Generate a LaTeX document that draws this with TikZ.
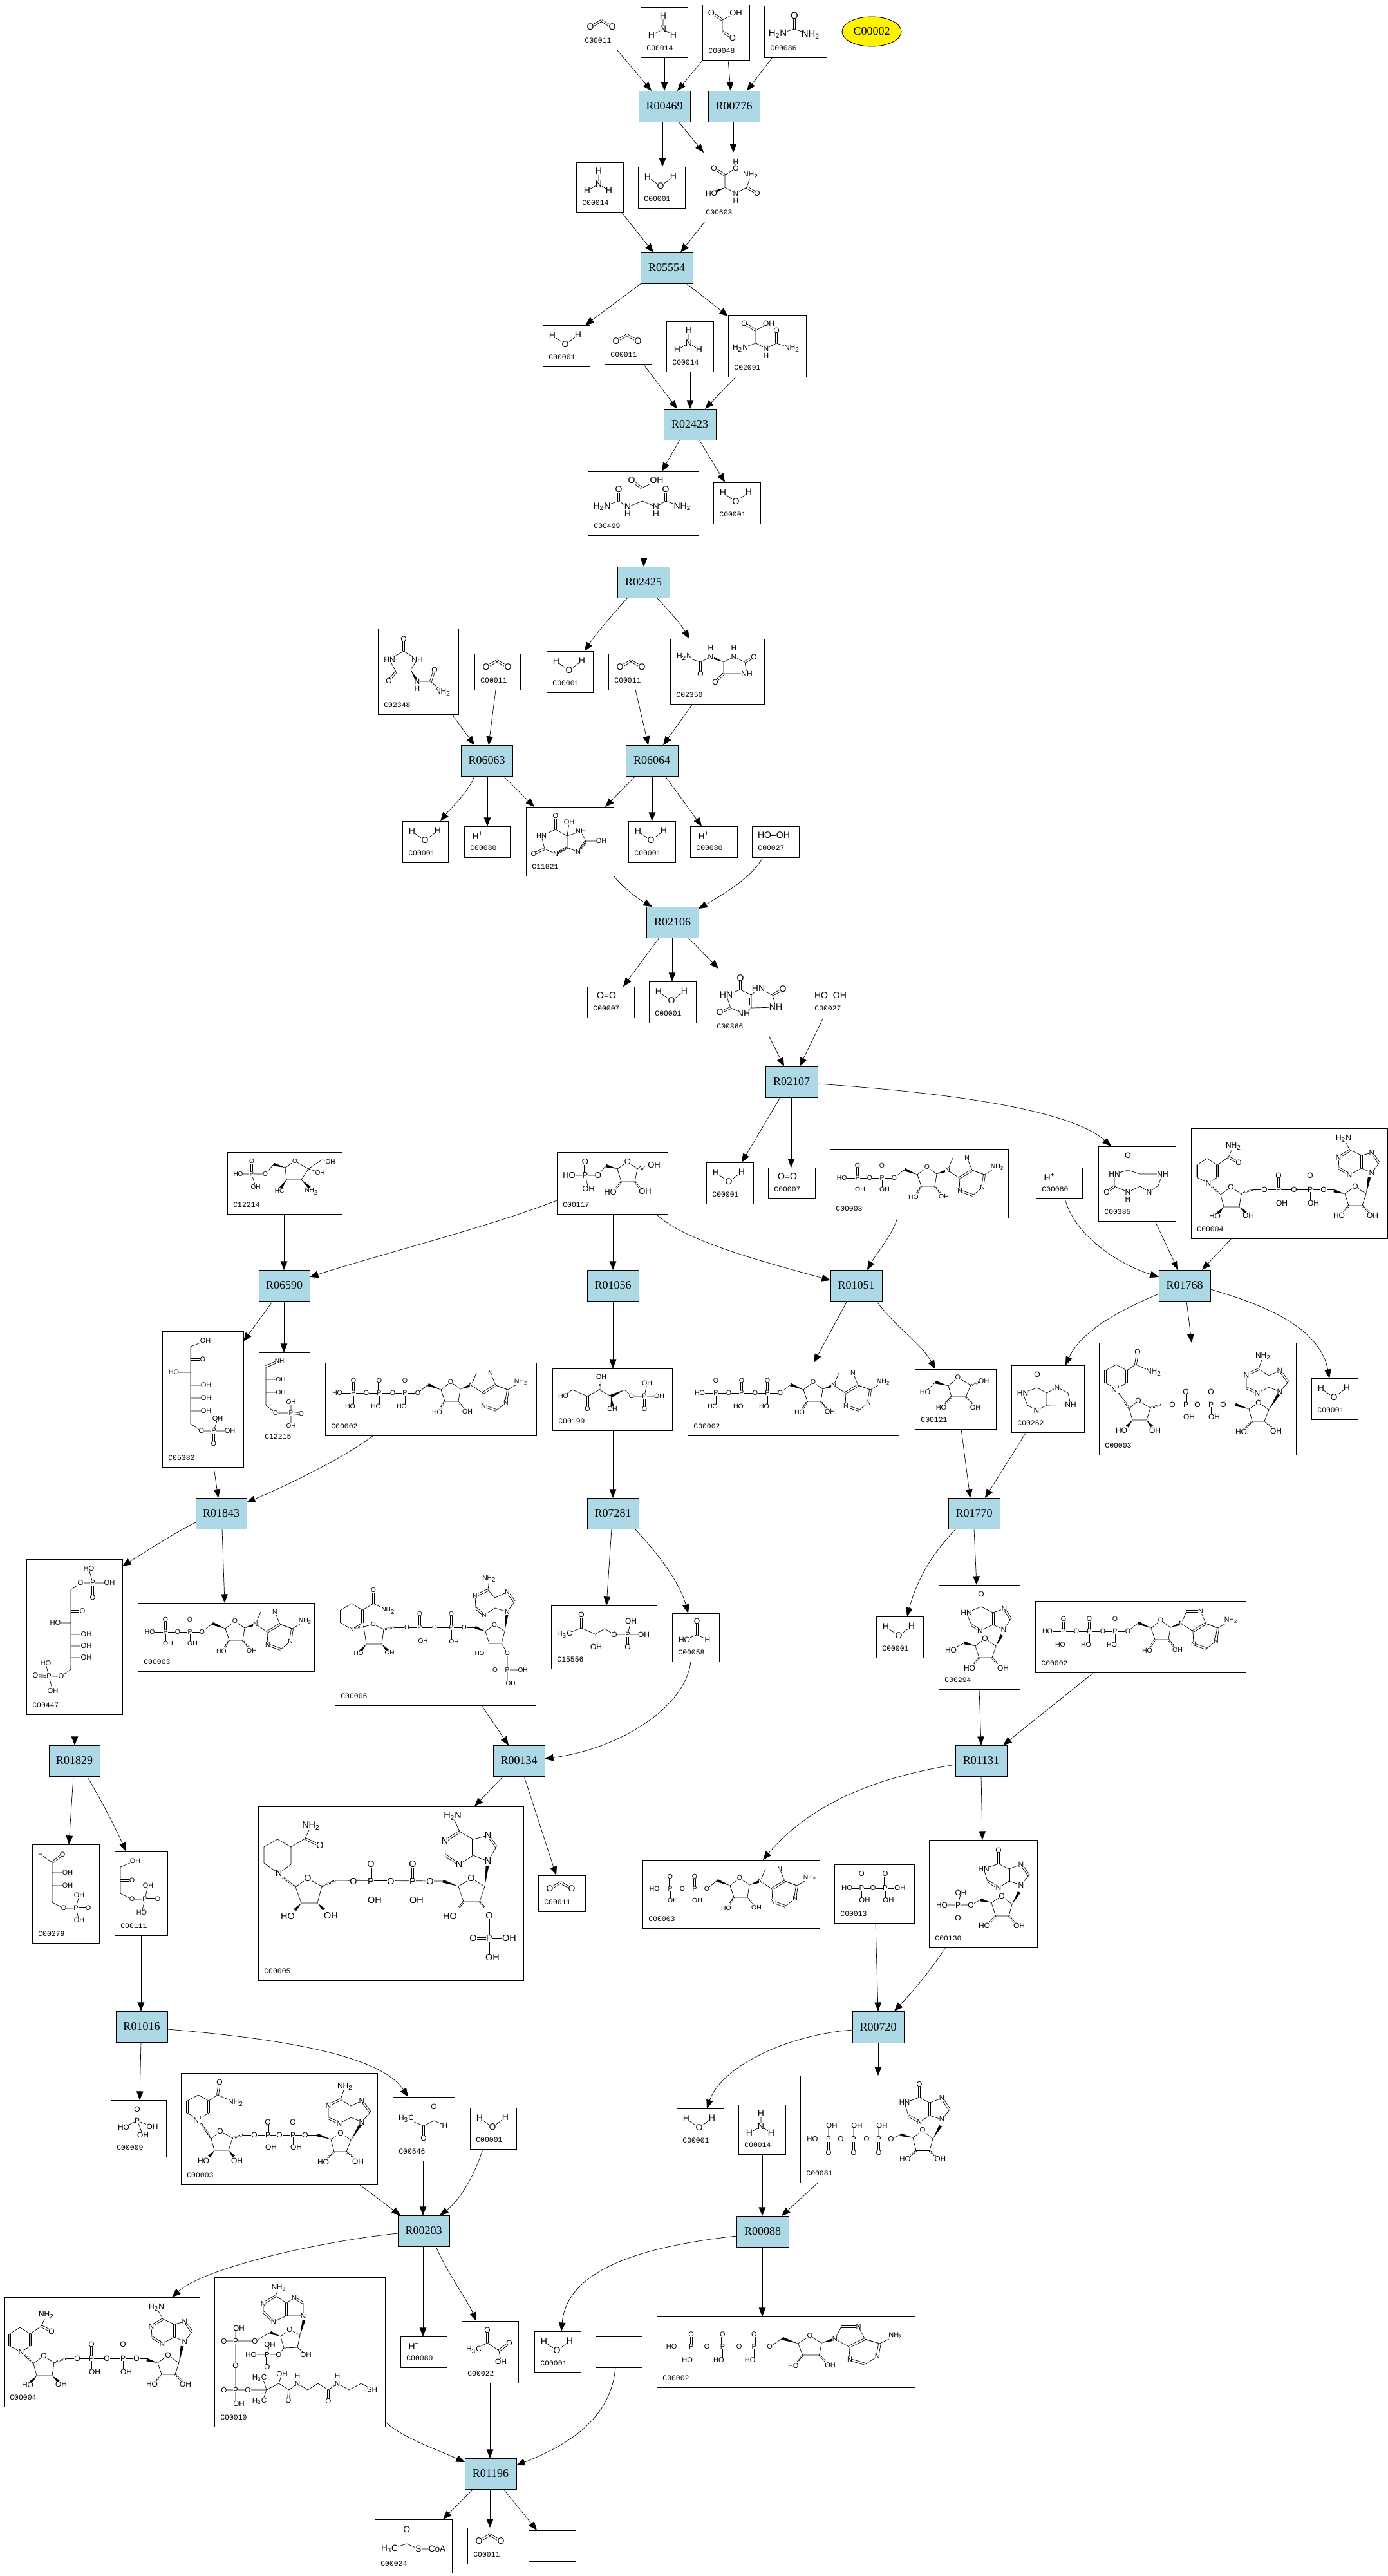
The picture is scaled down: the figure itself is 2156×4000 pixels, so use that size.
\documentclass[tikz,border=0pt]{standalone}
\usepackage{fontspec}
\setmainfont{Liberation Serif}
\setsansfont{Liberation Sans}
\setmonofont{Liberation Mono}
\usetikzlibrary{arrows.meta,calc,shapes.geometric}
\definecolor{rxblue}{HTML}{ADD8E6}
\newcount\atmc
\def\atfont{\fontsize{7pt}{7pt}\selectfont\sffamily}
\tikzset{
 cbox/.style={draw=black,line width=0.45pt,rectangle,inner sep=0pt,outer sep=0pt},
 rbox/.style={draw=black,line width=0.45pt,rectangle,inner sep=0pt,outer sep=0pt,fill=rxblue,font=\fontsize{9pt}{9pt}\selectfont\rmfamily},
 lbl/.style={anchor=west,inner sep=0pt,font=\fontsize{5.7pt}{5.7pt}\selectfont\ttfamily},
 atmst/.style={inner sep=0.1pt,outer sep=0pt,fill=white,font=\atfont},
 bd/.style={line width=0.35pt,line join=round},
 ed/.style={line width=0.35pt,-{Triangle[length=6.8pt,width=5.3pt]}}
}
\newcommand\atm[2]{\global\advance\atmc by 1 \node[atmst] (atm\the\atmc) at (#1) {#2};}
\newcommand\dbl[2]{\draw[bd] ($(#1)!0.75pt!90:(#2)$)--($(#2)!0.75pt!-90:(#1)$) ($(#1)!0.75pt!-90:(#2)$)--($(#2)!0.75pt!90:(#1)$);}
\newcommand\wdg[2]{\fill ($(#2)!1.2pt!90:(#1)$)--(#1)--($(#2)!1.2pt!-90:(#1)$)--cycle;}
\newcommand\hsh[2]{\draw[line width=1.5pt,dash pattern=on .35pt off .65pt](#1)--(#2);}
\newcommand\nhh{NH\textsubscript{2}}
\newcommand\hhn{H\textsubscript{2}N}
\newcommand\hhhc{H\textsubscript{3}C}
\newcommand\cpd[8]{%
 \node[cbox,minimum width={(#4-#2)*0.5pt},minimum height={(#5-#3)*0.5pt}] (#1) at ({(#2+#4)/2},{(#3+#5)/2}) {};
 \node[lbl] (#1l) at ([shift={(9,-14)}]#1.south west) {#6};
 \begin{scope}[shift={(#1.north west)}]\def\atfont{\fontsize{#7}{#7}\selectfont\sffamily}#8\end{scope}}
\newcommand\rxn[6]{\node[rbox,minimum width={(#4-#2)*0.5pt},minimum height={(#5-#3)*0.5pt}] (#1) at ({(#2+#4)/2},{(#3+#5)/2}) {#6};}
% phosphate: x,y,up,down,label dx,label
\newcommand\phos[6]{\dbl{#1,#2-#3}{#1,#2}\draw[bd](#1,#2)--(#1,#2+#4);\atm{#1,#2-#3}{O}\atm{#1+#5,#2+#4}{#6}\atm{#1,#2}{P}}
% adenine ring: N9 C8 N7 C5 C6 N1 C2 N3 C4
\newcommand\pur[9]{\draw[bd](#1)--(#2) (#3)--(#4)--(#5) (#6)--(#7) (#8)--(#9)--(#1);\dbl{#2}{#3}\dbl{#5}{#6}\dbl{#7}{#8}\dbl{#9}{#4}\atm{#1}{N}\atm{#3}{N}\atm{#6}{N}\atm{#8}{N}}
% hypoxanthine: O C6 N1 C2 N3 C4 C5 N7 C8, with N9 in \hNn
\newcommand\hypo[9]{\draw[bd](#2)--(#3)--(#4) (#5)--(#6) (#7)--(#2) (#7)--(#8) (#9)--(\hNn)--(#6);\dbl{#1}{#2}\dbl{#4}{#5}\dbl{#6}{#7}\dbl{#8}{#9}\atm{#1}{O}\atm{#3}{HN}\atm{#5}{N}\atm{#8}{N}\atm{\hNn}{N}}
\newcommand\mWater{\draw[bd](15,16)--(35,30)--(55,15);\atm{15,16}{H}\atm{35,30}{O}\atm{55,15}{H}}
\newcommand\mCOO{\dbl{18,21}{35,11}\dbl{35,11}{52,21}\atm{18,21}{O}\atm{52,21}{O}}
\newcommand\mNHHH{\draw[bd](35,14)--(35,34)(17,44)--(35,34)--(51,44);\atm{35,14}{H}\atm{35,34}{N}\atm{17,44}{H}\atm{51,44}{H}}
\newcommand\mOO{\atm{30,14}{O=O}}
\newcommand\mHOOH{\atm{34,14}{HO--OH}}
\newcommand\mHp{\atm{21,15}{H\textsuperscript{+}}}
\newcommand\mGlx{\dbl{14,13}{31,24}\draw[bd](52,13)--(31,24)--(31,42);\dbl{31,42}{47,52}\atm{14,13}{O}\atm{52,13}{OH}\atm{47,52}{O}}
\newcommand\mUrea{\dbl{47,15}{47,36}\draw[bd](21,44)--(47,36)--(72,45);\atm{47,15}{O}\atm{21,44}{\hhn}\atm{72,45}{\nhh}}
\newcommand\mCsixOthree{\dbl{22,24}{39,35}\draw[bd](56,24)--(39,35)--(39,54)--(56,63)--(73,54)--(79,35)(56,14)--(56,24);\wdg{39,54}{22,62}\dbl{73,54}{89,63}\atm{56,14}{H}\atm{56,24}{O}\atm{22,24}{O}\atm{18,63}{HO}\atm{56,63}{N}\atm{56,74}{H}\atm{79,35}{\nhh}\atm{89,63}{O}}
\newcommand\mCtwoNinetyOne{\dbl{25,13}{43,24}\draw[bd](63,13)--(43,24)--(43,44)--(19,52)(43,44)--(59,52)--(75,44)--(99,52);\dbl{75,24}{75,44}\atm{25,13}{O}\atm{63,13}{OH}\atm{19,52}{\hhn}\atm{59,52}{N}\atm{59,63}{H}\atm{75,24}{O}\atm{99,52}{\nhh}}
\newcommand\mAllantoate{\dbl{68,14}{84,26}\draw[bd](84,26)--(107,14)(22,55)--(48,46)--(62,55)--(85,46)--(106,55)--(121,46)--(147,55);\dbl{48,28}{48,46}\dbl{121,28}{121,46}\atm{68,14}{O}\atm{107,14}{OH}\atm{48,28}{O}\atm{121,28}{O}\atm{22,55}{\hhn}\atm{62,55}{N}\atm{62,66}{H}\atm{106,55}{N}\atm{106,66}{H}\atm{147,55}{\nhh}}
\newcommand\mCtwoThreeFourEight{\dbl{40,16}{40,35}\draw[bd](18,48)--(40,35)--(61,48)--(51,64)(18,48)--(28,67);\dbl{28,67}{17,81}\wdg{51,64}{61,82}\draw[bd](61,82)--(82,82)--(101,99);\dbl{82,82}{88,64}\atm{40,16}{O}\atm{18,48}{HN}\atm{61,48}{NH}\atm{17,81}{O}\atm{61,82}{N}\atm{61,93}{H}\atm{88,64}{O}\atm{101,99}{\nhh}}
\newcommand\mCtwoThreeFifty{\draw[bd](22,28)--(47,36)--(63,28)(83,36)--(99,28)--(116,36)--(119,54)--(83,54)--(83,36);\dbl{47,36}{47,54}\wdg{83,36}{63,28}\dbl{116,36}{130,28}\dbl{83,54}{70,67}\atm{22,28}{\hhn}\atm{63,28}{N}\atm{63,14}{H}\atm{47,54}{O}\atm{99,28}{N}\atm{99,14}{H}\atm{130,28}{O}\atm{119,54}{NH}\atm{70,67}{O}}
\newcommand\mCelevenEight{\dbl{46,14}{46,35}\draw[bd](46,35)--(24,45)--(29,65)--(46,73)--(64,63)--(64,45)--(46,35)(64,45)--(67,24)(64,45)--(85,38)--(93,53)--(117,53)(93,53)--(81,70)--(64,63);\dbl{29,65}{12,73}\dbl{46,73}{64,63}\dbl{93,53}{81,70}\atm{46,14}{O}\atm{67,24}{OH}\atm{85,38}{NH}\atm{117,53}{OH}\atm{81,70}{N}\atm{46,73}{N}\atm{12,73}{O}\atm{24,45}{HN}}
\newcommand\mUrate{\dbl{46,15}{46,33}\draw[bd](46,33)--(24,41)--(31,61)--(51,70)--(63,61)--(63,41)--(46,33)(63,41)--(74,31)--(96,41)--(101,60)--(63,61);\dbl{31,61}{14,68}\dbl{96,41}{112,32}\draw[bd](60,45)--(60,57);\atm{46,15}{O}\atm{24,41}{HN}\atm{14,68}{O}\atm{51,70}{NH}\atm{74,31}{HN}\atm{112,32}{O}\atm{101,60}{NH}}
\newcommand\mXanth{\dbl{46,14.5}{46,37}\draw[bd](46,37)--(25,43)--(25,62)--(46,71)--(65,62)(65,43)--(46,37)(65,43)--(100,43)--(93,61)--(79,71)--(65,62);\dbl{25,62}{13,71}\dbl{65,62}{65,43}\atm{46,14.5}{O}\atm{25,43}{HN}\atm{13,71}{O}\atm{46,71}{N}\atm{46,82}{H}\atm{100,43}{NH}\atm{79,71}{N}}
\newcommand\mHypx{\dbl{40,14.5}{40,35}\draw[bd](40,35)--(17.5,43)--(25,62)--(39,70)--(55,62)--(92,61)(55,62)--(55,43)--(40,35)(55,43)--(71,34)--(88,43)--(92,61);\atm{40,14.5}{O}\atm{17.5,43}{HN}\atm{39,70}{N}\atm{71,34}{N}\atm{92,61}{NH}}
\newcommand\mRfP{\dbl{44,15}{44,36}\draw[bd](19,36)--(64,36)(44,36)--(49,57)(64,36)--(76,21);\wdg{94,26}{76,21}\draw[bd](94,26)--(110,15)--(125,26)--(121,46)--(100,46)--cycle (125,26)--(130,22)--(132,28)--(137,21);\hsh{100,46}{92,56}\hsh{121,46}{129,56}\atm{44,15}{O}\atm{44,36}{P}\atm{19,36}{HO}\atm{64,36}{O}\atm{49,57}{OH}\atm{110,15}{O}\atm{83,62}{HO}\atm{137,61}{OH}\atm{151,20}{OH}}
\newcommand\mCtwelveA{\dbl{38,14}{38,34}\draw[bd](17,34)--(59,34)(38,34)--(44,54)(59,34)--(72,19);\wdg{90,24}{72,19}\draw[bd](90,24)--(105,14)--(126,26)--(115,43)--(92,43)--cycle (126,26)--(147,12)--(160,15)(126,26)--(144,32);\wdg{92,43}{83,56}\wdg{115,43}{128,55}\atm{38,14}{O}\atm{38,34}{P}\atm{17,34}{HO}\atm{59,34}{O}\atm{44,54}{OH}\atm{105,14}{O}\atm{81,60}{HC}\atm{131,61}{\nhh}\atm{144,32}{OH}\atm{160,15}{OH}}
\newcommand\mCfiveThree{\draw[bd](67,15)--(44,24)--(44,144)--(61,155)--(105,155)(44,64)--(18,64)(44,84)--(68,84)(44,104)--(68,104)(44,124)--(68,124)(80,155)--(86,136);\dbl{44,44}{63,44}\dbl{80,155}{80,175}\atm{67,15}{OH}\atm{63,44}{O}\atm{18,64}{HO}\atm{68,84}{OH}\atm{68,104}{OH}\atm{68,124}{OH}\atm{61,155}{O}\atm{80,155}{P}\atm{86,136}{OH}\atm{105,155}{OH}\atm{80,175}{O}}
\newcommand\mCtwelveB{\dbl{32,13}{11,22}\draw[bd](11,22)--(11,82)--(26,94)--(50,94)--(50,77)(11,42)--(34,42)(11,62)--(34,62)(50,94)--(50,114);\dbl{50,94}{66,95}\atm{32,13}{NH}\atm{34,42}{OH}\atm{34,62}{OH}\atm{26,94}{O}\atm{50,94}{P}\atm{50,77}{OH}\atm{66,95}{O}\atm{50,114}{OH}}
% adenosine part, ATP coordinates
\newcommand\mAdo{\draw[bd](144,47)--(160,34);\wdg{180,42}{160,34}\draw[bd](180,42)--(195,30)--(210,41)--(207,60)--(186,60)--cycle;\hsh{186,60}{179,71}\hsh{207,60}{215,70}\wdg{210,41}{227,35}\draw[bd](265,35)--(284,42)--(304,30);\pur{227,35}{235,16}{257,16}{265,35}{284,42}{281,62}{266,74}{246,67}{245,47}\atm{195,30}{O}\atm{144,47}{O}\atm{174,77}{HO}\atm{221,76}{OH}\atm{304,30}{\nhh}}
\newcommand\mATP{\draw[bd](19,47)--(144,47);\phos{44}{47}{19}{21}{-5}{HO}\phos{84}{47}{19}{21}{-5}{HO}\phos{124}{47}{19}{21}{-5}{HO}\atm{19,47}{HO}\atm{64,47}{O}\atm{105,47}{O}\mAdo}
\newcommand\mADP{\draw[bd](18.6,45)--(100,45);\phos{43}{45}{19}{18}{4}{OH}\phos{81}{45}{19}{18}{4}{OH}\atm{18.6,45}{HO}\atm{62,45}{O}\begin{scope}[shift={(-44,-2)}]\mAdo\end{scope}}
\newcommand\mCoNinetyNine{\draw[bd](17,43)--(31,33)--(54.5,43)--(73,33)--(91,43)(112,33)--(123,43)--(166,43)(143,43)--(147,23);\dbl{54.5,43}{54.5,63}\hsh{73,33}{75,21}\wdg{91,43}{93,58}\wdg{112,33}{91,43}\dbl{143,43}{143,63}\atm{17,43}{HO}\atm{54.5,63}{O}\atm{76,13}{OH}\atm{93,63}{CH}\atm{123,43}{O}\atm{143,43}{P}\atm{147,23}{OH}\atm{166,43}{OH}\atm{143,63}{O}}
\newcommand\mRibose{\draw[bd](16,36)--(32,20);\wdg{52,26}{32,20}\draw[bd](52,26)--(67,13)--(87,25)--(79,43)--(57,43)--cycle;\hsh{87,25}{100,20}\hsh{57,43}{46,54}\hsh{79,43}{90,54}\atm{16,36}{HO}\atm{67,13}{O}\atm{107,19}{OH}\atm{41,60}{HO}\atm{94,60}{OH}}
\newcommand\mCfifteen{\draw[bd](21,45)--(47,35)--(69,44.6)--(83,36)--(98,45)--(144,45)(69,44.6)--(70,64)(119,45)--(124,24);\dbl{47,14.5}{47,35}\dbl{119,45}{119,64}\atm{21,45}{\hhhc}\atm{47,14.5}{O}\atm{70,64}{OH}\atm{98,45}{O}\atm{119,45}{P}\atm{124,24}{OH}\atm{144,45}{OH}\atm{119,64}{O}}
\newcommand\mFormate{\dbl{38.6,12.8}{38.6,33.7}\draw[bd](19,41)--(38.6,33.7)--(55,41);\atm{38.6,12.8}{O}\atm{19,41}{HO}\atm{55,41}{H}}
\newcommand\mCfourFortySeven{\draw[bd](97,15)--(103,37)(84,37)--(129,37)(84,37)--(69,48)--(69,171)--(54,182)--(35,182)(69,99)--(45,99)(69,117)--(93,117)(69,135)--(93,135)(69,153)--(93,153)(35,182)--(30,162)(35,182)--(41,205);\dbl{103,37}{103,60}\dbl{69,81}{87,81}\dbl{14,181}{35,182}\atm{97,15}{HO}\atm{84,37}{O}\atm{103,37}{P}\atm{129,37}{OH}\atm{103,60}{O}\atm{87,81}{O}\atm{45,99}{HO}\atm{93,117}{OH}\atm{93,135}{OH}\atm{93,153}{OH}\atm{54,182}{O}\atm{35,182}{P}\atm{30,162}{HO}\atm{14,181}{O}\atm{41,205}{OH}}
\newcommand\mCtwoSeventyNine{\draw[bd](13,15.5)--(31,28)--(31,90)--(49,99)--(68,99)--(73,79)(31,44)--(55,44)(31,64)--(55,64)(68,99)--(73,118);\dbl{31,28}{47,15.5}\dbl{68,99}{87,99}\atm{13,15.5}{H}\atm{47,15.5}{O}\atm{55,44}{OH}\atm{55,64}{OH}\atm{49,99}{O}\atm{68,99}{P}\atm{73,79}{OH}\atm{87,99}{O}\atm{73,118}{OH}}
\newcommand\mDHAP{\draw[bd](32,14.5)--(9,24)--(9,65)--(27,74)--(47,74)--(52,53)(47,74)--(42,95);\dbl{9,45}{27,45}\dbl{47,74}{67,74}\atm{32,14.5}{OH}\atm{27,45}{O}\atm{27,74}{O}\atm{47,74}{P}\atm{52,53}{OH}\atm{67,74}{O}\atm{42,95}{HO}}
\newcommand\mNADP{\draw[bd](26,54)--(43,64)(43,84)--(26,94)--(10,84)(10,64)--(26,54)(43,64)--(60,54)--(83,65);\dbl{43,64}{43,84}\dbl{10,84}{10,64}\dbl{60,33}{60,54}\hsh{45,90}{30,92}\draw[bd](45,90)--(60,86)--(76,94)--(73,117)--(49,117)--cycle;\hsh{76,94}{92,91}\wdg{49,117}{40,128}\wdg{73,117}{82,127}\draw[bd](92,91)--(201,91)(201,91)--(220,91);\wdg{234,97}{218,91}\phos{132}{91}{21}{21}{5}{OH}\phos{181}{91}{21}{22}{4}{OH}\draw[bd](234,97)--(248,87)--(264,97)--(259,116)--(240,116)--cycle (259,116)--(268,131)--(268,178)(268,157)--(292,157);\wdg{264,97}{268,67}\dbl{249,157}{268,157}\draw[bd](238,33)--(240,15.5);\pur{268,67}{279,51}{268,36}{249,45}{238,33}{218,42}{219,61}{232,72}{249,61}\atm{26,94}{N}\atm{60,33}{O}\atm{83,65}{\nhh}\atm{60,86}{O}\atm{37,131}{HO}\atm{85,130}{OH}\atm{112,91}{O}\atm{155,91}{O}\atm{201,91}{O}\atm{248,87}{O}\atm{225,131}{HO}\atm{268,131}{O}\atm{268,157}{P}\atm{249,157}{O}\atm{292,157}{OH}\atm{273,178}{OH}\atm{240,15.5}{\nhh}}
\newcommand\mNADPH{\draw[bd](32,104)--(51,90)--(51,63)(30,51)--(9,63)--(9,88)--(32,104)(30,51)--(51,63)--(73,50)--(82,30);\dbl{51,90}{51,63}\dbl{9,63}{9,88}\dbl{73,50}{96,61}\hsh{58,125}{38,110}\draw[bd](58,125)--(77,112)--(99,124)--(92,150)--(67,150)--cycle;\hsh{99,124}{120,115}\wdg{67,150}{57,161}\wdg{92,150}{102,160}\draw[bd](120,115)--(287,116);\wdg{311,124}{287,116}\phos{175}{117}{27}{29}{6}{OH}\phos{240}{117}{27}{29}{6}{OH}\draw[bd](311,124)--(331,112)--(352,124)--(344,148)--(319,148)--cycle;\hsh{319,148}{312,157}\hsh{344,148}{352,157}\draw[bd](359,170)--(359,235)(359,205)--(390,205);\dbl{334,205}{359,205}\wdg{352,124}{356,92}\draw[bd](313,39)--(302,15);\pur{357,85}{370,63}{357,45}{334,51}{313,39}{290,54}{291,76}{312,90}{334,76}\atm{32,104}{N}\atm{82,30}{\nhh}\atm{96,61}{O}\atm{77,112}{O}\atm{46,171}{HO}\atm{113,170}{OH}\atm{148,117}{O}\atm{206,117}{O}\atm{267,117}{O}\atm{331,112}{O}\atm{298,171}{HO}\atm{359,170}{O}\atm{359,205}{P}\atm{334,205}{O}\atm{390,205}{OH}\atm{364,235}{OH}\atm{302,15}{\hhn}}
\newcommand\mNADH{\draw[bd](27,85)--(41,76)--(41,57)(25,47)--(9,57)--(9,76)--(27,85)(25,47)--(41,57)--(58,45)--(66,28);\dbl{41,76}{41,57}\dbl{9,57}{9,76}\dbl{58,45}{74,53}\hsh{46,103}{32,90}\draw[bd](46,103)--(62,91)--(78,102)--(75,122)--(51,122)--cycle;\hsh{78,102}{96,95}\wdg{51,122}{42,132}\wdg{75,122}{85,131}\draw[bd](96,95)--(222,95);\wdg{239,102}{222,97}\phos{136}{95}{22}{21}{5}{OH}\phos{185}{95}{22}{21}{5}{OH}\draw[bd](239,102)--(255,90)--(272,102)--(266,120)--(245,120)--cycle;\hsh{245,120}{236,130}\hsh{266,120}{277,131}\wdg{272,102}{277,76}\draw[bd](247,34)--(237,16);\pur{281,69}{292,54}{281,38}{265,42}{247,34}{229,45}{230,62}{246,72}{265,62}\atm{27,85}{N}\atm{66,28}{\nhh}\atm{74,53}{O}\atm{62,91}{O}\atm{37,136}{HO}\atm{89,135}{OH}\atm{114,95}{O}\atm{160,95}{O}\atm{206,95}{O}\atm{255,90}{O}\atm{230,135}{HO}\atm{282,135}{OH}\atm{237,16}{\hhn}}
\newcommand\mNADplus{\draw[bd](27,34)--(43,43)(43,62)--(27,72)--(10,62)(10,43)--(27,34)(43,43)--(57,34)--(85,46);\dbl{43,43}{43,62}\dbl{10,62}{10,43}\dbl{60,14.5}{57,34}\hsh{47,102}{30,76}\draw[bd](47,102)--(61,90)--(80,101)--(74,120)--(52,120)--cycle;\hsh{80,101}{97,96}\wdg{52,120}{44,130}\wdg{74,120}{82,130}\draw[bd](97,96)--(212,96);\wdg{233,103}{212,96}\phos{135}{96}{20}{19}{5}{OH}\phos{174}{96}{20}{19}{5}{OH}\draw[bd](233,103)--(248,93)--(264,104)--(257,122)--(238,122)--cycle;\hsh{238,122}{228,132}\hsh{257,122}{268,131}\wdg{264,104}{279,80}\draw[bd](248,41)--(255,21);\pur{281,76}{294,61}{281,43}{264,51}{248,41}{229,50}{229,70}{246,78}{264,69}\atm{27,72}{N\textsuperscript{+}}\atm{60,14.5}{O}\atm{85,46}{\nhh}\atm{61,90}{O}\atm{35,136}{HO}\atm{87,136}{OH}\atm{114,96}{O}\atm{153,96}{O}\atm{193,96}{O}\atm{248,93}{O}\atm{221,138}{HO}\atm{275,137}{OH}\atm{255,21}{\nhh}}
\newcommand\mInosine{\def\hNn{101,69}\wdg{89,95}{98,78}\hypo{66,14}{66,34}{43,43}{51,62}{64.5,71}{84.5,62}{84.5,43}{102,37}{112,53}\draw[bd](89,95)--(72,83)--(57,95)--(63,113)--(83,113)--(89,95)(19,101)--(40,90);\wdg{57,95}{40,90}\hsh{63,113}{54,123}\hsh{83,113}{92,123}\atm{72,83}{O}\atm{19,101}{HO}\atm{48,129}{HO}\atm{100,129}{OH}}
\newcommand\mIMP{\def\hNn{143,70}\wdg{129,100}{140,81}\hypo{108,16}{108,37}{85,45}{91,64}{108,74.5}{124,64}{124,45}{143,38}{155,55}\draw[bd](129,100)--(113,87)--(97,97.5)--(103.5,118)--(124,118)--(129,100)(20,101)--(65,101)--(80,93)(45,101)--(49.5,82);\wdg{97,97.5}{80,93}\dbl{45,101}{45,121}\hsh{103.5,118}{94,128}\hsh{124,118}{133,128}\atm{113,87}{O}\atm{86,133}{HO}\atm{140,133}{OH}\atm{65,101}{O}\atm{45,101}{P}\atm{20,101}{HO}\atm{49.5,82}{OH}\atm{45,121}{O}}
\newcommand\mITP{\def\hNn{220,68}\wdg{206,98}{218,78}\hypo{185,14}{185,34}{162,42}{168,62}{185,72}{201,62}{201,42}{220,35}{232,53}\draw[bd](206,98)--(190,85)--(175,96.5)--(180,116.5)--(201,116.5)--(206,98)(19,98.5)--(141,98.5)--(155.5,91.5)(44,98.5)--(44,78)(83,98.5)--(83,78)(122,98.5)--(122,78);\wdg{175,96.5}{155.5,91.5}\dbl{44,98.5}{44,120}\dbl{83,98.5}{83,120}\dbl{122,98.5}{122,120}\hsh{180,116.5}{170,126}\hsh{201,116.5}{210,126}\atm{190,85}{O}\atm{163,130}{HO}\atm{217.5,130}{OH}\atm{141,98.5}{O}\atm{122,98.5}{P}\atm{127,77.6}{OH}\atm{122,120}{O}\atm{103,98.5}{O}\atm{83,98.5}{P}\atm{88,77.6}{OH}\atm{83,120}{O}\atm{63,98.5}{O}\atm{44,98.5}{P}\atm{49,77.6}{OH}\atm{44,120}{O}\atm{19,98.5}{HO}}
\newcommand\mPPi{\draw[bd](19.6,37)--(102,37);\phos{42.4}{37}{22}{19}{4.6}{OH}\phos{79}{37}{22}{19}{5}{OH}\atm{19.6,37}{HO}\atm{60,37}{O}\atm{102,37}{OH}}
\newcommand\mPi{\dbl{41,14}{41,32}\draw[bd](20,42)--(41,32)--(64.5,41)(41,32)--(50,54);\atm{41,14}{O}\atm{41,32}{P}\atm{20,42}{HO}\atm{64.5,41}{OH}\atm{50,54}{OH}}
\newcommand\mMGO{\draw[bd](21,34)--(48,45)--(64,37)--(81,44);\dbl{48,45}{48,64}\dbl{64,37}{64,15}\atm{21,34}{\hhhc}\atm{48,64}{O}\atm{64,15}{O}\atm{81,44}{H}}
\newcommand\mPyr{\dbl{40,14}{40,34}\draw[bd](19,45)--(40,34)--(58,46)--(61,63);\dbl{58,46}{74,34}\atm{40,14}{O}\atm{19,45}{\hhhc}\atm{74,34}{O}\atm{61,63}{OH}}
\newcommand\mCoA{\draw[bd](95,29)--(100,16);\pur{138,60}{138,40}{124,32}{112,40}{95,29}{76,41}{76,54}{92,69}{112,60}\wdg{133,90}{139,67}\draw[bd](133,90)--(117,81)--(103,92)--(108,110)--(129,109)--cycle (108,110)--(100,120)--(57,120)(82,120)--(86,104)(129,109)--(142,120)(87,86)--(63,99)--(15,99)(33,99)--(33,79)(33,99)--(33,196)(15,175)--(33,175)--(81,175)--(75,156)(81,175)--(75,192)(81,175)--(100,165)--(116,175)--(129,165)--(145,175)--(161,165)--(177,175)--(191,165)--(209,175)--(228,165)--(245,174)(100,165)--(105,150);\wdg{103,92}{87,86}\dbl{82,120}{82,139}\dbl{116,175}{115,191}\dbl{177,175}{177,192}\dbl{15,99}{33,99}\dbl{15,175}{33,175}\atm{100,16}{\nhh}\atm{117,81}{O}\atm{142,120}{OH}\atm{100,120}{O}\atm{82,120}{P}\atm{86,104}{OH}\atm{57,120}{HO}\atm{82,139}{O}\atm{63,99}{O}\atm{33,99}{P}\atm{38,79}{OH}\atm{15,99}{O}\atm{33,137}{O}\atm{33,175}{P}\atm{15,175}{O}\atm{38,196}{OH}\atm{52,175}{O}\atm{70,156}{\hhhc}\atm{70,192}{\hhhc}\atm{105,150}{OH}\atm{115,191}{O}\atm{129,165}{N}\atm{129,153}{H}\atm{177,192}{O}\atm{191,165}{N}\atm{191,153}{H}\atm{245,174}{SH}}
\newcommand\mAcCoA{\dbl{50,16}{50,38}\draw[bd](23,46)--(50,38)--(68,46)--(97,46);\atm{50,16}{O}\atm{23,46}{\hhhc}\atm{68,46}{S}\atm{97,46}{CoA}}
\begin{document}
\begin{tikzpicture}[x=0.5pt,y=-0.5pt]
\path[use as bounding box] (0,0) rectangle (2156,4000);
% compounds
\cpd{cAa}{899}{21}{972}{77}{C00011}{7pt}{\mCOO}
\cpd{cAb}{995}{11}{1068}{89}{C00014}{7pt}{\mNHHH}
\cpd{cAc}{1091}{7}{1164}{93}{C00048}{6.5pt}{\mGlx}
\cpd{cAd}{1187}{9}{1284}{89}{C00086}{7.5pt}{\mUrea}
\node[draw=black,line width=0.45pt,ellipse,fill=yellow,minimum width=46pt,minimum height=23pt,inner sep=0pt,font=\fontsize{9pt}{9pt}\selectfont\rmfamily] (eC) at (1354,49) {C00002};
\rxn{rA}{992}{141}{1072}{189}{R00469}
\rxn{rB}{1100}{141}{1180}{189}{R00776}
\cpd{cBa}{991}{259}{1064}{323}{C00001}{7pt}{\mWater}
\cpd{cBb}{1087}{237}{1191}{344}{C00603}{6pt}{\mCsixOthree}
\cpd{cBc}{895}{252}{968}{329}{C00014}{7pt}{\mNHHH}
\rxn{rC}{995}{392}{1076}{440}{R05554}
\cpd{cCa}{843}{505}{916}{569}{C00001}{7pt}{\mWater}
\cpd{cCb}{939}{509}{1012}{565}{C00011}{7pt}{\mCOO}
\cpd{cCc}{1035}{499}{1108}{577}{C00014}{7pt}{\mNHHH}
\cpd{cCd}{1131}{489}{1252}{585}{C02091}{6pt}{\mCtwoNinetyOne}
\rxn{rD}{1031}{635}{1112}{683}{R02423}
\cpd{cDa}{913}{732}{1085}{831}{C00499}{7pt}{\mAllantoate}
\cpd{cDb}{1108}{749}{1181}{813}{C00001}{7pt}{\mWater}
\rxn{rE}{959}{880}{1040}{928}{R02425}
\cpd{cEa}{587}{976}{712}{1109}{C02348}{6pt}{\mCtwoThreeFourEight}
\cpd{cEb}{737}{1015}{808}{1071}{C00011}{7pt}{\mCOO}
\cpd{cEc}{849}{1011}{921}{1075}{C00001}{7pt}{\mWater}
\cpd{cEd}{945}{1015}{1017}{1071}{C00011}{7pt}{\mCOO}
\cpd{cEe}{1041}{992}{1187}{1093}{C02350}{6pt}{\mCtwoThreeFifty}
\rxn{rF}{716}{1157}{796}{1205}{R06063}
\rxn{rG}{972}{1157}{1053}{1205}{R06064}
\cpd{cFa}{625}{1275}{696}{1339}{C00001}{7pt}{\mWater}
\cpd{cFb}{721}{1283}{792}{1331}{C00080}{7pt}{\mHp}
\cpd{cFc}{817}{1253}{953}{1360}{C11821}{5.5pt}{\mCelevenEight}
\cpd{cFd}{976}{1275}{1049}{1339}{C00001}{7pt}{\mWater}
\cpd{cFe}{1072}{1283}{1145}{1331}{C00080}{7pt}{\mHp}
\cpd{cFf}{1168}{1283}{1241}{1331}{C00027}{7pt}{\mHOOH}
\rxn{rH}{1004}{1408}{1085}{1456}{R02106}
\cpd{cGa}{912}{1532}{985}{1580}{C00007}{7pt}{\mOO}
\cpd{cGb}{1008}{1524}{1081}{1588}{C00001}{7pt}{\mWater}
\cpd{cGc}{1104}{1504}{1233}{1608}{C00366}{7pt}{\mUrate}
\cpd{cGd}{1256}{1532}{1329}{1580}{C00027}{7pt}{\mHOOH}
\rxn{rI}{1189}{1656}{1270}{1704}{R02107}
\cpd{cHa}{865}{1789}{1037}{1885}{C00117}{6.5pt}{\mRfP}
\cpd{cHb}{1097}{1805}{1170}{1869}{C00001}{7pt}{\mWater}
\cpd{cHc}{1193}{1813}{1266}{1861}{C00007}{7pt}{\mOO}
\cpd{cHd}{1289}{1784}{1566}{1891}{C00003}{5.2pt}{\mADP}
\cpd{cHe}{1706}{1780}{1826}{1896}{C00385}{6pt}{\mXanth}
\cpd{cHf}{1850}{1752}{2155}{1923}{C00004}{6pt}{\mNADH}
\cpd{cHg}{1609}{1813}{1681}{1861}{C00080}{7pt}{\mHp}
\cpd{cHh}{353}{1789}{531}{1885}{C12214}{5pt}{\mCtwelveA}
\rxn{rJ}{402}{1972}{481}{2020}{R06590}
\rxn{rK}{912}{1972}{992}{2020}{R01056}
\rxn{rL}{1290}{1972}{1370}{2020}{R01051}
\rxn{rM}{1800}{1972}{1880}{2020}{R01768}
\cpd{cIa}{252}{2067}{378}{2278}{C05382}{5.5pt}{\mCfiveThree}
\cpd{cIb}{402}{2100}{481}{2245}{C12215}{5pt}{\mCtwelveB}
\cpd{cIc}{505}{2116}{833}{2229}{C00002}{5.3pt}{\mATP}
\cpd{cId}{858}{2125}{1044}{2221}{C00199}{5.3pt}{\mCoNinetyNine}
\cpd{cIe}{1068}{2116}{1396}{2229}{C00002}{5.3pt}{\mATP}
\cpd{cIf}{1421}{2126}{1547}{2219}{C00121}{5.5pt}{\mRibose}
\cpd{cIg}{1571}{2120}{1684}{2224}{C00262}{6pt}{\mHypx}
\cpd{cIh}{1707}{2085}{2013}{2259}{C00003}{6pt}{\mNADplus}
\cpd{cIi}{2037}{2140}{2109}{2204}{C00001}{7pt}{\mWater}
\rxn{rN}{304}{2326}{383}{2374}{R01843}
\rxn{rO}{912}{2326}{992}{2374}{R07281}
\rxn{rP}{1473}{2326}{1553}{2374}{R01770}
\cpd{cJa}{41}{2421}{190}{2662}{C00447}{5.6pt}{\mCfourFortySeven}
\cpd{cJb}{214}{2489}{488}{2595}{C00003}{5.2pt}{\mADP}
\cpd{cJc}{520}{2436}{832}{2648}{C00006}{5pt}{\mNADP}
\cpd{cJd}{856}{2493}{1020}{2591}{C15556}{6pt}{\mCfifteen}
\cpd{cJe}{1044}{2505}{1117}{2580}{C00058}{6pt}{\mFormate}
\cpd{cJf}{1361}{2510}{1434}{2574}{C00001}{7pt}{\mWater}
\cpd{cJg}{1458}{2461}{1584}{2623}{C00294}{6pt}{\mInosine}
\cpd{cJh}{1608}{2486}{1935}{2597}{C00002}{5.3pt}{\mATP}
\rxn{rQ}{76}{2710}{155}{2758}{R01829}
\rxn{rR}{766}{2710}{846}{2758}{R00134}
\rxn{rS}{1484}{2710}{1564}{2758}{R01131}
\cpd{cKa}{50}{2864}{154}{3017}{C00279}{5.4pt}{\mCtwoSeventyNine}
\cpd{cKb}{178}{2875}{260}{3005}{C00111}{5.4pt}{\mDHAP}
\cpd{cKc}{401}{2805}{813}{3075}{C00005}{7.2pt}{\mNADPH}
\cpd{cKd}{836}{2912}{909}{2968}{C00011}{7pt}{\mCOO}
\cpd{cKe}{998}{2888}{1273}{2994}{C00003}{5.2pt}{\mADP}
\cpd{cKf}{1296}{2895}{1420}{2986}{C00013}{5.7pt}{\mPPi}
\cpd{cKg}{1443}{2857}{1611}{3024}{C00130}{6pt}{\mIMP}
\rxn{rT}{180}{3123}{260}{3171}{R01016}
\rxn{rU}{1324}{3123}{1404}{3172}{R00720}
\cpd{cLa}{172}{3261}{258}{3349}{C00009}{6pt}{\mPi}
\cpd{cLb}{281}{3219}{586}{3392}{C00003}{6pt}{\mNADplus}
\cpd{cLc}{610}{3256}{706}{3355}{C00546}{6pt}{\mMGO}
\cpd{cLd}{730}{3273}{802}{3337}{C00001}{7pt}{\mWater}
\cpd{cLe}{1051}{3274}{1124}{3338}{C00001}{7pt}{\mWater}
\cpd{cLf}{1147}{3268}{1220}{3345}{C00014}{7pt}{\mNHHH}
\cpd{cLg}{1243}{3223}{1489}{3389}{C00081}{5.7pt}{\mITP}
\rxn{rV}{618}{3440}{698}{3488}{R00203}
\rxn{rW}{1144}{3441}{1225}{3489}{R00088}
\cpd{cMa}{6}{3567}{310}{3737}{C00004}{6pt}{\mNADH}
\cpd{cMb}{333}{3536}{598}{3768}{C00010}{5.8pt}{\mCoA}
\cpd{cMc}{622}{3628}{694}{3676}{C00080}{7pt}{\mHp}
\cpd{cMd}{717}{3604}{805}{3700}{C00022}{6pt}{\mPyr}
\cpd{cMe}{830}{3620}{902}{3684}{C00001}{7pt}{\mWater}
\cpd{cMf}{925}{3628}{997}{3676}{}{7pt}{}
\cpd{cMg}{1020}{3597}{1421}{3707}{C00002}{5.5pt}{\begin{scope}[xscale=1.22]\mATP\end{scope}}
\rxn{rX}{722}{3817}{802}{3865}{R01196}
\cpd{cNa}{582}{3912}{702}{3995}{C00024}{6.8pt}{\mAcCoA}
\cpd{cNb}{726}{3925}{798}{3981}{C00011}{7pt}{\mCOO}
\cpd{cNc}{821}{3929}{894}{3977}{}{7pt}{}
% edges
\draw[ed] (958,0 |- cAa.south)--(1012,0 |- rA.north);
\draw[ed] (1032,0 |- cAb.south)--(1032,0 |- rA.north);
\draw[ed] (1092,0 |- cAc.south)--(1052,0 |- rA.north);
\draw[ed] (1131,0 |- cAc.south)--(1135,0 |- rB.north);
\draw[ed] (1200,0 |- cAd.south)--(1160,0 |- rB.north);
\draw[ed] (1029,0 |- rA.south)--(1029,0 |- cBa.north);
\draw[ed] (1054,0 |- rA.south)--(1093,0 |- cBb.north);
\draw[ed] (1139,0 |- rB.south)--(1139,0 |- cBb.north);
\draw[ed] (965,0 |- cBc.south)--(1015,0 |- rC.north);
\draw[ed] (1095,0 |- cBb.south)--(1057,0 |- rC.north);
\draw[ed] (996,0 |- rC.south)--(909,0 |- cCa.north);
\draw[ed] (1066,0 |- rC.south)--(cCd.west |- 0,491);
\draw[ed] (999,0 |- cCb.south)--(1052,0 |- rD.north);
\draw[ed] (1072,0 |- cCc.south)--(1072,0 |- rD.north);
\draw[ed] (1143,0 |- cCd.south)--(1095,0 |- rD.north);
\draw[ed] (1056,0 |- rD.south)--(1028,0 |- cDa.north);
\draw[ed] (1086,0 |- rD.south)--(1126,0 |- cDb.north);
\draw[ed] (1000,0 |- cDa.south)--(1000,0 |- rE.north);
\draw[ed] (975,0 |- rE.south) .. controls (955,950) and (925,985) .. (908,0 |- cEc.north);
\draw[ed] (1020,0 |- rE.south) .. controls (1040,950) and (1055,965) .. (1071,0 |- cEe.north);
\draw[ed] (702,0 |- cEa.south)--(737,0 |- rF.north);
\draw[ed] (770,0 |- cEb.south)--(759,0 |- rF.north);
\draw[ed] (987,0 |- cEd.south)--(1007,0 |- rG.north);
\draw[ed] (1076,0 |- cEe.south)--(1030,0 |- rG.north);
\draw[ed] (737,0 |- rF.south) .. controls (728,1230) and (700,1255) .. (684,0 |- cFa.north);
\draw[ed] (757,0 |- rF.south)--(757,0 |- cFb.north);
\draw[ed] (782,0 |- rF.south)--(830,0 |- cFc.north);
\draw[ed] (987,0 |- rG.south)--(940,0 |- cFc.north);
\draw[ed] (1013,0 |- rG.south)--(1013,0 |- cFd.north);
\draw[ed] (1033,0 |- rG.south)--(1090,0 |- cFe.north);
\draw[ed] (953,0 |- cFc.south) .. controls (970,1380) and (990,1395) .. (1013,0 |- rH.north);
\draw[ed] (1185,0 |- cFf.south) .. controls (1170,1360) and (1130,1385) .. (rH.east |- 0,1411);
\draw[ed] (1024,0 |- rH.south)--(968,0 |- cGa.north);
\draw[ed] (1044,0 |- rH.south)--(1044,0 |- cGb.north);
\draw[ed] (1069,0 |- rH.south)--(1116,0 |- cGc.north);
\draw[ed] (1194,0 |- cGc.south)--(1218,0 |- rI.north);
\draw[ed] (1279,0 |- cGd.south)--(1242,0 |- rI.north);
\draw[ed] (1212,0 |- rI.south)--(1152,0 |- cHb.north);
\draw[ed] (1229,0 |- rI.south)--(1229,0 |- cHc.north);
\draw[ed] (rI.east |- 0,1683) .. controls (1450,1695) and (1660,1720) .. (1726,0 |- cHe.north);
\draw[ed] (1394,0 |- cHd.south) .. controls (1385,1920) and (1362,1945) .. (1347,0 |- rL.north);
\draw[ed] (1654,0 |- cHg.south) .. controls (1668,1915) and (1730,1960) .. (rM.west |- 0,1983);
\draw[ed] (1794,0 |- cHe.south)--(1830,0 |- rM.north);
\draw[ed] (1913,0 |- cHf.south)--(1867,0 |- rM.north);
\draw[ed] (441,0 |- cHh.south)--(441,0 |- rJ.north);
\draw[ed] (cHa.west |- 0,1864) .. controls (760,1905) and (600,1945) .. (rJ.east |- 0,1983);
\draw[ed] (952,0 |- cHa.south)--(952,0 |- rK.north);
\draw[ed] (1019,0 |- cHa.south) .. controls (1060,1925) and (1170,1955) .. (rL.west |- 0,1988);
\draw[ed] (424,0 |- rJ.south)--(cIa.east |- 0,2083);
\draw[ed] (441,0 |- rJ.south)--(441,0 |- cIb.north);
\draw[ed] (952,0 |- rK.south)--(952,0 |- cId.north);
\draw[ed] (1316,0 |- rL.south)--(1264,0 |- cIe.north);
\draw[ed] (1361,0 |- rL.south) .. controls (1395,2065) and (1430,2085) .. (1453,0 |- cIf.north);
\draw[ed] (rM.west |- 0,2009) .. controls (1745,2032) and (1680,2065) .. (1655,0 |- cIg.north);
\draw[ed] (1843,0 |- rM.south)--(1851,0 |- cIh.north);
\draw[ed] (rM.east |- 0,2002) .. controls (1960,2025) and (2050,2060) .. (2065,0 |- cIi.north);
\draw[ed] (332,0 |- cIa.south)--(339,0 |- rN.north);
\draw[ed] (580,0 |- cIc.south) .. controls (540,2260) and (450,2305) .. (rN.east |- 0,2333);
\draw[ed] (952,0 |- cId.south)--(952,0 |- rO.north);
\draw[ed] (1493,0 |- cIf.south)--(1507,0 |- rP.north);
\draw[ed] (1594,0 |- cIg.south)--(1530,0 |- rP.north);
\draw[ed] (rN.west |- 0,2364) .. controls (275,2378) and (225,2410) .. (cJa.east |- 0,2432);
\draw[ed] (345,0 |- rN.south)--(349,0 |- cJb.north);
\draw[ed] (950,0 |- rO.south)--(942,0 |- cJd.north);
\draw[ed] (986,0 |- rO.south) .. controls (1020,2410) and (1055,2455) .. (1069,0 |- cJe.north);
\draw[ed] (1485,0 |- rP.south) .. controls (1450,2410) and (1425,2450) .. (1409,0 |- cJf.north);
\draw[ed] (1513,0 |- rP.south)--(1517,0 |- cJg.north);
\draw[ed] (116,0 |- cJa.south)--(116,0 |- rQ.north);
\draw[ed] (748,0 |- cJc.south)--(790,0 |- rR.north);
\draw[ed] (1073,0 |- cJe.south) .. controls (1065,2650) and (965,2715) .. (rR.east |- 0,2731);
\draw[ed] (1521,0 |- cJg.south)--(1524,0 |- rS.north);
\draw[ed] (1699,0 |- cJh.south)--(1558,0 |- rS.north);
\draw[ed] (114,0 |- rQ.south)--(107,0 |- cKa.north);
\draw[ed] (135,0 |- rQ.south) .. controls (160,2800) and (180,2840) .. (196,0 |- cKb.north);
\draw[ed] (782,0 |- rR.south)--(737,0 |- cKc.north);
\draw[ed] (814,0 |- rR.south)--(864,0 |- cKd.north);
\draw[ed] (rS.west |- 0,2740) .. controls (1360,2760) and (1260,2800) .. (1185,0 |- cKe.north);
\draw[ed] (1524,0 |- rS.south)--(1526,0 |- cKg.north);
\draw[ed] (219,0 |- cKb.south)--(219,0 |- rT.north);
\draw[ed] (1360,0 |- cKf.south)--(1364,0 |- rU.north);
\draw[ed] (1469,0 |- cKg.south) .. controls (1445,3060) and (1420,3090) .. (1389,0 |- rU.north);
\draw[ed] (219,0 |- rT.south)--(217,0 |- cLa.north);
\draw[ed] (rT.east |- 0,3151) .. controls (430,3165) and (590,3190) .. (634,0 |- cLc.north);
\draw[ed] (rU.west |- 0,3152) .. controls (1220,3160) and (1120,3210) .. (1098,0 |- cLe.north);
\draw[ed] (1364,0 |- rU.south)--(1364,0 |- cLg.north);
\draw[ed] (558,0 |- cLb.south)--(622,0 |- rV.north);
\draw[ed] (657,0 |- cLc.south)--(657,0 |- rV.north);
\draw[ed] (750,0 |- cLd.south) .. controls (735,3385) and (710,3420) .. (683,0 |- rV.north);
\draw[ed] (1184,0 |- cLf.south)--(1184,0 |- rW.north);
\draw[ed] (1271,0 |- cLg.south)--(1214,0 |- rW.north);
\draw[ed] (rV.west |- 0,3468) .. controls (500,3480) and (320,3520) .. (267,0 |- cMa.north);
\draw[ed] (657,0 |- rV.south)--(657,0 |- cMc.north);
\draw[ed] (677,0 |- rV.south) .. controls (695,3530) and (725,3570) .. (740,0 |- cMd.north);
\draw[ed] (rW.west |- 0,3472) .. controls (980,3490) and (880,3530) .. (872,0 |- cMe.north);
\draw[ed] (1184,0 |- rW.south)--(1184,0 |- cMg.north);
\draw[ed] (761,0 |- cMd.south)--(761,0 |- rX.north);
\draw[ed] (956,0 |- cMf.south) .. controls (950,3745) and (900,3790) .. (rX.east |- 0,3828);
\draw[ed] (cMb.east |- 0,3760) .. controls (625,3785) and (670,3800) .. (rX.west |- 0,3823);
\draw[ed] (735,0 |- rX.south)--(688,0 |- cNa.north);
\draw[ed] (761,0 |- rX.south)--(761,0 |- cNb.north);
\draw[ed] (782,0 |- rX.south)--(834,0 |- cNc.north);
\end{tikzpicture}
\end{document}
